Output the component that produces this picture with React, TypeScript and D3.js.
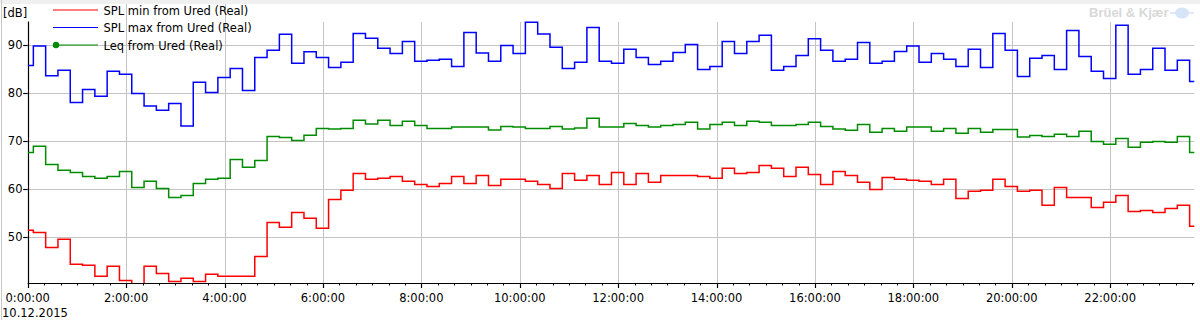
import React from 'react';
import * as d3 from 'd3';

// ---- data ----
const seriesNames = ['SPL min from Ured (Real)', 'SPL max from Ured (Real)', 'Leq from Ured (Real)'];
const seriesColors = ['#ff0000', '#0000ff', '#008c00'];
const hourTicks = [0, 2, 4, 6, 8, 10, 12, 14, 16, 18, 20, 22];
const yTicks = [50, 60, 70, 80, 90];
const dateLabel = '10.12.2015';
const unitLabel = '[dB]';
const brandLabel = 'Brüel & Kjær';

// time structure of the 15-minute steps (hours)
const firstStepHours = 0.115;
const stepHours = 0.25;
const endHours = 23.71;

const splMax = [
  85.8, 89.9, 83.7, 84.8, 78.1, 80.8, 79.4, 84.6, 84.0, 80.0,
  77.4, 76.5, 77.9, 73.2, 82.3, 80.2, 83.3, 85.2, 80.6, 87.5,
  89.0, 92.3, 86.3, 88.7, 87.5, 85.4, 86.5, 92.5, 91.5, 89.4,
  88.3, 90.8, 86.7, 86.9, 87.1, 85.6, 92.7, 88.4, 86.7, 90.0,
  88.3, 94.8, 92.4, 89.6, 85.2, 86.5, 93.75, 86.7, 86.3, 89.2,
  87.5, 86.0, 86.7, 88.5, 90.2, 85.0, 85.6, 90.8, 88.3, 90.8,
  92.1, 84.8, 85.6, 87.9, 91.4, 89.0, 86.7, 87.1, 90.6, 86.3,
  86.7, 88.75, 89.9, 86.5, 88.3, 87.1, 85.6, 89.2, 85.4, 92.5,
  89.0, 83.5, 87.3, 87.9, 85.0, 93.1, 87.7, 84.6, 83.1, 94.2,
  84.0, 85.0, 89.4, 84.8, 86.9, 82.5,
];

const leq = [
  67.7, 69.0, 65.2, 64.0, 63.5, 62.7, 62.3, 62.7, 63.75, 60.4,
  61.7, 60.2, 58.3, 58.75, 61.25, 62.1, 62.3, 66.25, 64.6, 66.0,
  71.0, 70.8, 70.2, 71.3, 72.7, 72.6, 72.7, 74.4, 73.6, 74.4,
  73.3, 74.2, 73.3, 72.7, 72.7, 73.0, 73.0, 73.0, 72.4, 73.1,
  73.0, 72.7, 72.7, 73.1, 72.6, 72.8, 74.8, 73.0, 73.0, 73.75,
  73.3, 73.0, 73.3, 73.5, 74.0, 72.6, 73.5, 74.0, 73.3, 74.2,
  74.0, 73.3, 73.3, 73.5, 74.0, 73.1, 72.6, 72.3, 73.5, 71.9,
  72.7, 72.1, 73.0, 73.0, 72.1, 72.7, 71.7, 72.7, 71.9, 72.5,
  72.5, 70.9, 71.25, 71.0, 71.5, 71.0, 72.1, 70.0, 69.4, 70.6,
  68.8, 69.8, 70.0, 69.8, 71.0, 67.7,
];

const splMin = [
  51.5, 51.0, 47.9, 49.6, 44.4, 44.2, 41.9, 44.0, 41.0, 39.5,
  44.0, 42.5, 40.8, 41.5, 40.8, 42.3, 41.9, 41.9, 41.9, 46.0,
  53.1, 52.1, 55.2, 54.0, 51.9, 57.9, 59.8, 63.3, 62.1, 62.3,
  62.7, 61.7, 61.0, 60.6, 61.25, 62.7, 61.25, 62.9, 60.8, 62.1,
  62.1, 61.7, 61.0, 60.2, 63.3, 61.9, 62.9, 61.0, 63.5, 61.0,
  63.3, 61.5, 62.9, 62.9, 62.9, 62.7, 62.3, 64.4, 63.3, 63.5,
  65.0, 64.4, 62.7, 64.6, 63.1, 61.0, 63.75, 62.9, 61.5, 60.0,
  62.5, 62.1, 61.9, 61.7, 61.0, 62.1, 58.1, 59.6, 59.8, 62.1,
  60.6, 59.6, 59.8, 56.7, 60.4, 58.3, 58.3, 56.25, 57.3, 58.75,
  55.4, 55.6, 55.2, 56.0, 56.7, 52.3,
];

const W = 1200;
const H = 320;
const FONT = '"DejaVu Sans", Verdana, sans-serif';

export default function App() {
  const plotLeft = 27.7;
  const plotRight = 1194.3;
  const plotTop = 21.4;
  const plotBottom = 283;

  const x = d3.scaleLinear().domain([0, endHours]).range([plotLeft, plotRight]);
  const y = d3.scaleLinear().domain([40.5, 95]).range([plotBottom, plotTop]);

  const stepStarts = (n: number) => {
    const t: number[] = [0];
    for (let i = 1; i < n; i++) t.push(firstStepHours + (i - 1) * stepHours);
    return t;
  };

  const line = d3
    .line<[number, number]>()
    .x((d) => x(d[0]))
    .y((d) => y(d[1]))
    .curve(d3.curveStepAfter);

  const pathFor = (vals: number[]) => {
    const t = stepStarts(vals.length);
    const pts: [number, number][] = vals.map((v, i) => [t[i], v]);
    pts.push([endHours, vals[vals.length - 1]]);
    return line(pts) || '';
  };

  const series = [splMin, splMax, leq];
  const drawOrder = [1, 2, 0];

  const minorTicks = d3.range(0, endHours + 1e-9, 1 / 3).filter((h) => Math.abs(h / 2 - Math.round(h / 2)) > 1e-6);

  const crisp = (v: number) => Math.round(v) + 0.5;

  return (
    <svg
      width={W}
      height={H}
      style={{ position: 'absolute', left: 0, top: 0, background: '#fff' }}
      fontFamily={FONT}
    >
      <defs>
        <clipPath id="plotclip">
          <rect x={plotLeft} y={0} width={plotRight - plotLeft + 2} height={plotBottom} />
        </clipPath>
      </defs>
      <rect x={0} y={0} width={W} height={H} fill="#fff" />
      <rect x={0} y={0} width={W} height={4} fill="#f0f0f0" />
      <line x1={1.5} x2={1.5} y1={0} y2={H} stroke="#c8c8c8" strokeWidth={1} />

      {/* horizontal grid */}
      {yTicks.map((v) => (
        <line key={'hg' + v} x1={plotLeft} x2={plotRight} y1={crisp(y(v))} y2={crisp(y(v))} stroke="#c4c4c4" strokeWidth={1} />
      ))}
      {/* vertical grid */}
      {hourTicks.filter((h) => h > 0).map((h) => (
        <line
          key={'vg' + h}
          x1={crisp(x(h))}
          x2={crisp(x(h))}
          y1={x(h) < 260 ? 4 : 22}
          y2={plotBottom}
          stroke="#c4c4c4"
          strokeWidth={1}
        />
      ))}

      {/* axes */}
      <line x1={crisp(plotLeft)} x2={crisp(plotLeft)} y1={plotTop} y2={plotBottom + 0.5} stroke="#000" strokeWidth={1.2} />
      <line x1={plotLeft} x2={plotRight} y1={crisp(plotBottom)} y2={crisp(plotBottom)} stroke="#000" strokeWidth={1.2} />
      {yTicks.map((v) => (
        <g key={'yt' + v}>
          <line x1={plotLeft - 4.5} x2={plotLeft} y1={crisp(y(v))} y2={crisp(y(v))} stroke="#000" strokeWidth={1.2} />
          <text x={22.5} y={y(v) + 4} fontSize={11.5} textAnchor="end" fill="#000">
            {v}
          </text>
        </g>
      ))}
      {hourTicks.map((h) => (
        <g key={'xt' + h}>
          <line x1={crisp(x(h))} x2={crisp(x(h))} y1={plotBottom} y2={plotBottom + 5} stroke="#000" strokeWidth={1.2} />
          <text x={x(h)} y={301.5} fontSize={11.5} textAnchor="middle" fill="#000">
            {`${h}:00:00`}
          </text>
        </g>
      ))}
      {minorTicks.map((h, i) => (
        <line key={'mt' + i} x1={crisp(x(h))} x2={crisp(x(h))} y1={plotBottom} y2={plotBottom + 2.5} stroke="#000" strokeWidth={1} />
      ))}
      <text x={2} y={317} fontSize={11.5} fill="#000">
        {dateLabel}
      </text>
      <text x={3} y={17} fontSize={11.5} fill="#000">
        {unitLabel}
      </text>

      {/* series */}
      <g clipPath="url(#plotclip)">
        {drawOrder.map((si) => (
          <path key={'s' + si} d={pathFor(series[si])} fill="none" stroke={seriesColors[si]} strokeWidth={1.5} />
        ))}
      </g>

      {/* legend */}
      {seriesNames.map((name, i) => {
        const ly = 10 + i * 17.5;
        return (
          <g key={'lg' + i}>
            <line x1={53} x2={98} y1={ly} y2={ly} stroke={seriesColors[i]} strokeWidth={1.2} />
            {i === 2 && <circle cx={56} cy={ly} r={3.2} fill={seriesColors[i]} />}
            <text x={103.5} y={ly + 4.5} fontSize={11.5} fill="#000">
              {name}
            </text>
          </g>
        );
      })}

      {/* brand */}
      <text x={1089} y={17} fontSize={13} fontWeight="bold" fontFamily='"Liberation Sans", Arial, sans-serif' fill="#d8d8d8">
        {brandLabel}
      </text>
      <ellipse cx={1182} cy={13} rx={7} ry={5.5} fill="#d6e4f7" />
      <line x1={1170} x2={1194} y1={13} y2={13} stroke="#d6e4f7" strokeWidth={1.5} />
    </svg>
  );
}
